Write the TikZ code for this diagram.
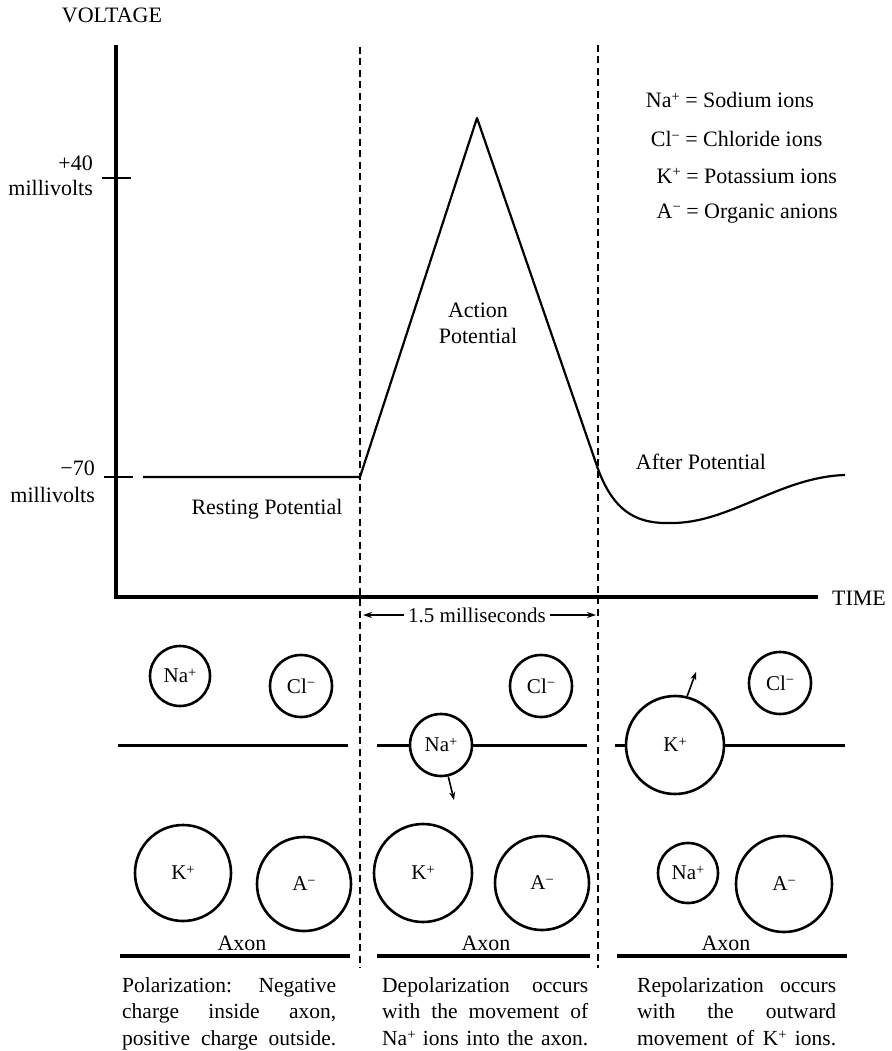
\documentclass[tikz,border=0pt]{standalone}
\usepackage{fontspec}
\setmainfont{Liberation Serif}
\usetikzlibrary{arrows.meta}
\newcommand\ionsup[1]{\raisebox{0.6ex}{\fontsize{14.5}{14.5}\selectfont #1}}
\newcommand\descpar[2]{\parbox[t]{#1}{\fontsize{21.5}{26.5}\selectfont #2}}
\newcommand\jline[2]{\makebox[#1][s]{#2}\par}
\begin{document}
\begin{tikzpicture}[x=1pt,y=-1pt,
  txt/.style={inner sep=0pt, font=\fontsize{22}{26.5}\selectfont},
  ion/.style={circle, draw, line width=2.6pt, inner sep=0pt, font=\fontsize{21}{24}\selectfont},
  axisline/.style={line width=4pt, line join=miter},
  trace/.style={line width=2.2pt, line join=round},
  membrane/.style={line width=3pt},
  axonline/.style={line width=3.6pt},
  divider/.style={line width=2.8pt, dash pattern=on 7pt off 4.5pt},
  move/.style={line width=1.6pt, -{Stealth[length=8pt,width=6pt]}},
  span/.style={line width=1.4pt, -{Stealth[length=9pt,width=6pt]}}]
\useasboundingbox (0,0) rectangle (891,1051);

% axes
\coordinate (ytop) at (116,45);
\coordinate (orig) at (116,597);
\coordinate (xend) at (818,597);
\draw[axisline] (ytop) -- (orig) -- (xend);
\node[txt] (volt) at (112,15) {VOLTAGE};
\node[txt] (time) at (859,598) {TIME};

% ticks
\coordinate (t40a) at (102,178); \coordinate (t40b) at (131,178);
\draw[line width=2.2pt] (t40a) -- (t40b);
\coordinate (t70a) at (104,477); \coordinate (t70b) at (133,477);
\draw[line width=2.2pt] (t70a) -- (t70b);
\node[txt, anchor=east] (p40) at (93,163) {+40};
\node[txt, anchor=east] (mv1) at (93,188) {millivolts};
\node[txt, anchor=east] (m70) at (95,468) {−70};
\node[txt, anchor=east] (mv2) at (95,495) {millivolts};

% dividers
\coordinate (d1t) at (360,47); \coordinate (d1b) at (360,968);
\coordinate (d2t) at (598,45); \coordinate (d2b) at (598,968);
\draw[divider] (d1t) -- (d1b);
\draw[divider] (d2t) -- (d2b);

% trace
\coordinate (r0) at (143,477);
\coordinate (r1) at (360,477);
\coordinate (peak) at (477,118);
\coordinate (r2) at (598,469);
\coordinate (rmin) at (672,523);
\coordinate (rend) at (845,475);
\draw[trace] (r0) -- (r1) -- (peak) -- (r2)
  .. controls (615,515) and (640,524) .. (rmin)
  .. controls (730,523) and (780,477) .. (rend);

\node[txt, anchor=base] (rest) at (267,514) {Resting Potential};
\node[txt, align=center] (act) at (478,323.5) {Action\\Potential};
\node[txt] (after) at (701,462) {After Potential};

% legend
\node[txt, anchor=base west] (lg1) at (703,108) {\llap{Na\ionsup{+} = }Sodium ions};
\node[txt, anchor=base west] (lg2) at (703,147) {\llap{Cl\ionsup{−} = }Chloride ions};
\node[txt, anchor=base west] (lg3) at (704,183) {\llap{K\ionsup{+} = }Potassium ions};
\node[txt, anchor=base west] (lg4) at (704,218) {\llap{A\ionsup{−} = }Organic anions};

% duration
\node[txt, font=\fontsize{21}{24}\selectfont] (ms) at (477,615) {1.5 milliseconds};
\coordinate (msl) at (363,615);
\coordinate (msr) at (596,615);
\draw[span] (ms.west) ++(-4,0) coordinate (msa) (msa) -- (msl);
\draw[span] (ms.east) ++(4,0) coordinate (msb) (msb) -- (msr);

% panel 1
\node[ion, minimum size=60pt] (na1) at (180,676) {Na\ionsup{+}};
\node[ion, minimum size=62pt] (cl1) at (301,686) {Cl\ionsup{−}};
\coordinate (m1a) at (118,745); \coordinate (m1b) at (348,745);
\draw[membrane] (m1a) -- (m1b);
\node[ion, minimum size=96pt] (k1) at (183,873) {K\ionsup{+}};
\node[ion, minimum size=94pt] (a1) at (304,884) {A\ionsup{−}};

% panel 2
\node[ion, minimum size=62pt] (na2) at (441,745) {Na\ionsup{+}};
\coordinate (m2a) at (377,745); \coordinate (m2b) at (587,745);
\draw[membrane] (m2a) -- (na2);
\draw[membrane] (na2) -- (m2b);
\coordinate (na2tip) at (454,800);
\draw[move] (na2.-77) -- (na2tip);
\node[ion, minimum size=62pt] (cl2) at (541,686) {Cl\ionsup{−}};
\node[ion, minimum size=98pt] (k2) at (423,873) {K\ionsup{+}};
\node[ion, minimum size=94pt] (a2) at (542,883) {A\ionsup{−}};

% panel 3
\node[ion, minimum size=98pt] (k3) at (675,745) {K\ionsup{+}};
\coordinate (m3a) at (615,745); \coordinate (m3b) at (845,745);
\draw[membrane] (m3a) -- (k3);
\draw[membrane] (k3) -- (m3b);
\coordinate (k3tip) at (696,672);
\draw[move] (k3.76) -- (k3tip);
\node[ion, minimum size=62pt] (cl3) at (780,683) {Cl\ionsup{−}};
\node[ion, minimum size=60pt] (na3) at (688,873) {Na\ionsup{+}};
\node[ion, minimum size=96pt] (a3) at (784,884) {A\ionsup{−}};

% axon lines
\coordinate (ax1a) at (120,956); \coordinate (ax1b) at (350,956);
\coordinate (ax2a) at (377,956); \coordinate (ax2b) at (590,956);
\coordinate (ax3a) at (617,956); \coordinate (ax3b) at (847,956);
\draw[axonline] (ax1a) -- (ax1b);
\draw[axonline] (ax2a) -- (ax2b);
\draw[axonline] (ax3a) -- (ax3b);
\node[txt] (axt1) at (242,943) {Axon};
\node[txt] (axt2) at (486,943) {Axon};
\node[txt] (axt3) at (726,943) {Axon};

% descriptions
\node[inner sep=0pt, anchor=base west] (desc1) at (122,992) {\descpar{214pt}{%
  \jline{214pt}{Polarization: Negative}%
  \jline{214pt}{charge inside axon,}%
  \jline{214pt}{positive charge outside.}}};
\node[inner sep=0pt, anchor=base west] (desc2) at (382,992) {\descpar{206pt}{%
  \jline{206pt}{Depolarization occurs}%
  \jline{206pt}{with the movement of}%
  \jline{206pt}{Na\ionsup{+} ions into the axon.}}};
\node[inner sep=0pt, anchor=base west] (desc3) at (637,992) {\descpar{199pt}{%
  \jline{199pt}{Repolarization occurs}%
  \jline{199pt}{with the outward}%
  \jline{199pt}{movement of K\ionsup{+} ions.}}};
\end{tikzpicture}
\end{document}
